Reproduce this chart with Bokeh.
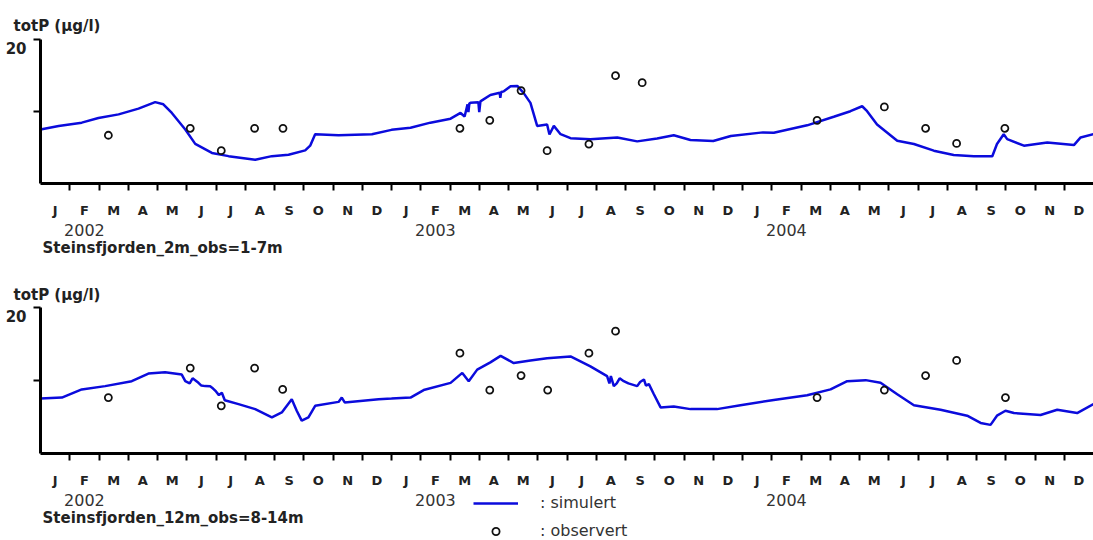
from bokeh.plotting import figure
from bokeh.models import Range1d, FixedTicker, Legend, LegendItem, ColumnDataSource
from bokeh.layouts import column
from bokeh.core.properties import value
from bokeh.embed import file_html
from bokeh.resources import INLINE

# ---- data (x = months since 1 Jan 2002, y = totP in µg/l) ----
month_letters = ["J", "F", "M", "A", "M", "J", "J", "A", "S", "O", "N", "D"]
years = ["2002", "2003", "2004"]

top_sim_m = [0, 0.62, 1.41, 1.98, 2.67, 3.35, 3.92, 4.2, 4.49, 4.95, 5.29, 5.86, 6.43, 7.34, 7.91,
             8.48, 9.05, 9.22, 9.39, 10.19, 11.33, 12.0, 12.65, 13.33, 14.02, 14.36, 14.5,
             14.6, 14.63, 14.66, 14.7, 14.97, 15.0, 15.04, 15.38, 15.7, 15.72, 15.75,
             15.84, 16.07, 16.3, 16.52, 16.75, 16.98, 17.32, 17.4, 17.55, 17.78,
             18.12, 18.8, 19.72, 20.4, 21.08, 21.65, 22.22, 23.0, 23.6, 24.7, 25.07, 26.21, 27.12,
             27.69, 28.09, 28.26, 28.6, 29.29, 29.86, 30.54, 31.22, 31.91, 32.54, 32.7, 32.93,
             33.05, 33.62, 34.42, 35.33, 35.56, 36.0]
top_sim_v = [7.5, 8.0, 8.45, 9.1, 9.6, 10.4, 11.3, 11.0, 9.8, 7.5, 5.5, 4.25, 3.8, 3.3, 3.8,
             4.0, 4.6, 5.25, 6.85, 6.7, 6.85, 7.45, 7.75, 8.45, 9.0, 9.8, 9.3,
             11.0, 9.9, 11.1, 11.2, 11.3, 9.9, 11.4, 12.3, 12.6, 11.9, 12.7,
             12.8, 13.5, 13.55, 12.55, 11.2, 8.0, 8.2, 6.8, 8.0, 6.85,
             6.3, 6.15, 6.4, 5.85, 6.25, 6.7, 6.05, 5.9, 6.6, 7.1, 7.05, 8.08, 9.27,
             10.04, 10.73, 10.04, 8.2, 5.93, 5.48, 4.56, 3.97, 3.79, 3.79, 5.48, 6.85,
             6.16, 5.25, 5.71, 5.34, 6.4, 6.85]
top_obs_m = [2.32, 5.12, 6.18, 7.32, 8.29, 14.34, 15.36, 16.43, 17.32, 18.75, 19.66, 20.57,
             26.55, 28.85, 30.26, 31.32, 32.97]
top_obs_v = [6.7, 7.67, 4.56, 7.67, 7.67, 7.67, 8.77, 12.9, 4.56, 5.48, 14.97, 14.0,
             8.77, 10.64, 7.67, 5.57, 7.67]

bot_sim_m = [0, 0.73, 1.41, 2.21, 3.12, 3.69, 4.26, 4.83, 4.95, 5.1, 5.2, 5.3, 5.4, 5.5, 5.63,
             5.8, 5.9, 6.0, 6.1, 6.2, 6.3,
             6.77, 7.34, 7.91, 8.25, 8.59, 8.76, 8.93, 9.16, 9.39, 10.19, 10.3, 10.4, 11.56,
             12.0, 12.65, 13.1, 14.02, 14.42, 14.64, 14.93, 15.38, 15.73, 16.18, 16.75, 17.32,
             18.12, 18.8, 19.37, 19.45, 19.5, 19.6, 19.7, 19.8, 19.94, 20.1, 20.4, 20.5, 20.63,
             20.7, 20.8, 20.97, 21.2, 21.65, 22.22, 23.13,
             23.93, 25.07, 26.21, 27.01, 27.58, 28.21, 28.72, 29.29, 29.86, 30.77, 31.68, 32.14,
             32.48, 32.7, 32.99, 33.28, 34.19, 34.76, 35.44, 36.0]
bot_sim_v = [7.52, 7.66, 8.78, 9.23, 9.91, 10.95, 11.13, 10.81, 9.91, 9.6, 10.3, 10.0, 9.68, 9.3, 9.23,
             9.2, 8.9, 8.5, 8.0, 8.33, 7.3,
             6.76, 6.08, 4.95, 5.63, 7.43, 5.86, 4.5, 4.95, 6.53, 7.07, 7.66, 7.0, 7.43,
             7.52, 7.66, 8.69, 9.68, 11.04, 9.91, 11.49, 12.48, 13.38, 12.39, 12.75, 13.06,
             13.29, 11.94, 10.59, 9.6, 10.6, 9.23, 9.6, 10.3, 9.91, 9.6, 9.23, 9.8, 10.14,
             9.3, 9.5, 8.11, 6.31, 6.44, 6.08, 6.08,
             6.62, 7.34, 7.97, 8.78, 9.91, 10.05, 9.68, 8.11, 6.62, 5.99, 5.18, 4.19,
             3.92, 5.18, 5.86, 5.54, 5.27, 5.99, 5.54, 6.76]
bot_obs_m = [2.32, 5.12, 6.18, 7.32, 8.28, 14.34, 15.36, 16.43, 17.34, 18.75, 19.66,
             26.55, 28.85, 30.26, 31.32, 32.99]
bot_obs_v = [7.66, 11.7, 6.53, 11.7, 8.78, 13.74, 8.69, 10.68, 8.69, 13.74, 16.76,
             7.66, 8.69, 10.68, 12.75, 7.66]

y_ticks = [10, 20]
y_top_label = "20"
y_title = "totP (µg/l)"
stations = ["Steinsfjorden_2m_obs=1-7m", "Steinsfjorden_12m_obs=8-14m"]
legend_labels = [": simulert", ": observert"]

FONT = "DejaVu Sans"
BLUE = "#0b0bdc"
WIDTH = 1093
X_END = 36.0
LEFT = 40


def make_plot(sim_m, sim_v, obs_m, obs_v, border_top, frame_h, border_bottom, title_standoff):
    height = border_top + frame_h + border_bottom
    p = figure(width=WIDTH, height=height, output_backend="svg", toolbar_location=None,
               x_range=Range1d(0, X_END), y_range=Range1d(0, 20),
               min_border_left=LEFT, min_border_right=0, min_border_top=border_top,
               min_border_bottom=border_bottom)
    p.outline_line_color = None
    p.grid.visible = False
    px_per_unit = frame_h / 20.0

    p.title.text = y_title
    p.title.align = "left"
    p.title.offset = -27
    p.title.standoff = title_standoff
    p.title.text_font = FONT
    p.title.text_font_style = "bold"
    p.title.text_font_size = "15px"
    p.title.text_color = "#222222"

    p.line(sim_m, sim_v, line_color=BLUE, line_width=2.5)
    p.scatter(obs_m, obs_v, marker="circle", size=7, fill_color=None,
              line_color="#111111", line_width=1.8)

    mids = [i + 0.5 for i in range(36)]
    bounds = [float(i) for i in range(1, 36)]
    xa = p.xaxis[0]
    xa.ticker = FixedTicker(ticks=mids, minor_ticks=bounds)
    xa.major_label_overrides = {m: month_letters[i % 12] for i, m in enumerate(mids)}
    xa.major_tick_line_color = None
    xa.major_tick_out = 0
    xa.major_tick_in = 0
    xa.minor_tick_line_color = "black"
    xa.minor_tick_line_width = 2
    xa.minor_tick_out = 7
    xa.minor_tick_in = 0
    xa.axis_line_width = 3
    xa.axis_line_color = "black"
    xa.major_label_text_font = FONT
    xa.major_label_text_font_style = "bold"
    xa.major_label_text_font_size = "13px"
    xa.major_label_text_color = "#222222"
    xa.major_label_standoff = 12

    # tick marks at 10 and 20; the "20" label sits a little below its tick, as in the original
    label_pos = y_ticks[-1] - 9 / px_per_unit
    ya = p.yaxis[0]
    ya.ticker = FixedTicker(ticks=[label_pos], minor_ticks=y_ticks)
    ya.major_label_overrides = {label_pos: y_top_label}
    ya.major_tick_line_color = None
    ya.major_tick_out = 0
    ya.major_tick_in = 0
    ya.minor_tick_out = 7
    ya.minor_tick_in = 0
    ya.minor_tick_line_width = 2
    ya.minor_tick_line_color = "black"
    ya.axis_line_width = 3
    ya.axis_line_color = "black"
    ya.major_label_text_font = FONT
    ya.major_label_text_font_style = "bold"
    ya.major_label_text_font_size = "15px"
    ya.major_label_text_color = "#222222"
    ya.major_label_standoff = 7
    return p


def make_footer(plot, height, station, y_year, y_station, sim_m, sim_v, obs_m, obs_v,
                legend=False):
    f = figure(width=WIDTH, height=height, output_backend="svg", toolbar_location=None,
               x_range=plot.x_range, y_range=Range1d(height, 0),
               min_border_left=LEFT, min_border_right=0, min_border_top=0, min_border_bottom=0,
               x_axis_type=None, y_axis_type=None)
    f.outline_line_color = None
    f.grid.visible = False
    ysrc = ColumnDataSource(dict(x=[12 * i + 1.5 for i in range(len(years))],
                                 y=[y_year] * len(years), t=years))
    f.text(x="x", y="y", text="t", source=ysrc, text_font=value(FONT),
           text_font_size="16px", text_color="#333333",
           text_align="center", text_baseline="middle")
    ssrc = ColumnDataSource(dict(x=[0.07], y=[y_station], t=[station]))
    f.text(x="x", y="y", text="t", source=ssrc, text_font=value(FONT),
           text_font_style="bold", text_font_size="15px", text_color="#222222",
           text_align="left", text_baseline="middle")
    if legend:
        # hidden copies of the series, used only to draw the legend samples
        r_sim = f.line(sim_m, sim_v, line_color=BLUE, line_width=2.5, visible=False)
        r_obs = f.scatter(obs_m, obs_v, marker="circle", size=7, fill_color=None,
                          line_color="#111111", line_width=1.8, visible=False)
        lg = Legend(items=[LegendItem(label=legend_labels[0], renderers=[r_sim]),
                           LegendItem(label=legend_labels[1], renderers=[r_obs])],
                    location=(433, 0), orientation="vertical",
                    glyph_width=45, glyph_height=18, label_height=18, spacing=9,
                    label_standoff=22, padding=0, margin=0,
                    border_line_color=None, background_fill_alpha=0,
                    inactive_fill_alpha=0,
                    label_text_font=FONT, label_text_font_size="16px",
                    label_text_color="#333333")
        f.add_layout(lg, "center")
    return f


p1 = make_plot(top_sim_m, top_sim_v, top_obs_m, top_obs_v, 39, 146, 35, 10)
f1 = make_footer(p1, 50, stations[0], 9, 27, top_sim_m, top_sim_v, top_obs_m, top_obs_v)
p2 = make_plot(bot_sim_m, bot_sim_v, bot_obs_m, bot_obs_v, 37, 148, 35, 7)
f2 = make_footer(p2, 50, stations[1], 9, 27.5, bot_sim_m, bot_sim_v, bot_obs_m, bot_obs_v,
                 legend=True)

page = column(p1, f1, p2, f2)
open("out.html", "w").write(file_html(page, INLINE))
